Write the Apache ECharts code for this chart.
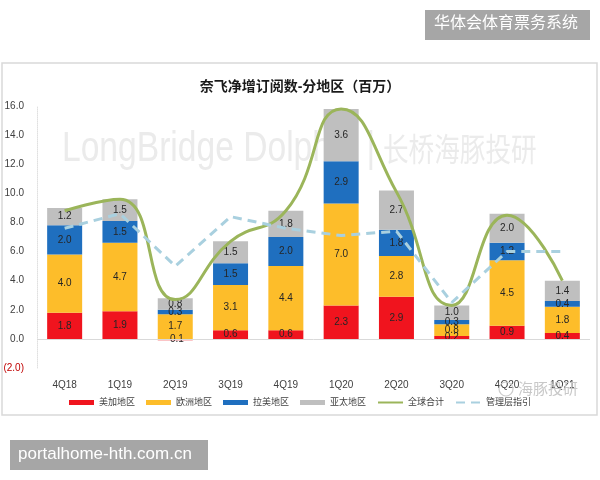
<!DOCTYPE html>
<html><head><meta charset="utf-8">
<script src="https://cdn.jsdelivr.net/npm/echarts@6/dist/echarts.min.js"></script>
<style>html,body{margin:0;padding:0;background:#fff}#c{width:600px;height:480px}</style>
</head><body><div id="c"></div>
<script>
var categories = ['4Q18','1Q19','2Q19','3Q19','4Q19','1Q20','2Q20','3Q20','4Q20','1Q21'];
var usCanada = [1.8, 1.9, -0.1, 0.6, 0.6, 2.3, 2.9, 0.2, 0.9, 0.4];
var europe   = [4.0, 4.7, 1.7, 3.1, 4.4, 7.0, 2.8, 0.8, 4.5, 1.8];
var latam    = [2.0, 1.5, 0.3, 1.5, 2.0, 2.9, 1.8, 0.3, 1.2, 0.4];
var apac     = [1.2, 1.5, 0.8, 1.5, 1.8, 3.6, 2.7, 1.0, 2.0, 1.4];
var globalTotal = [8.8, 9.6, 2.7, 6.7, 8.8, 15.8, 10.1, 2.3, 8.5, 4.0];
var guidance = [7.6, 8.6, 5.0, 8.4, 7.6, 7.1, 7.4, 2.5, 6.0, 6.0];
var seriesNames = ['美加地区','欧洲地区','拉美地区','亚太地区','全球合计','管理层指引'];
var titleText = '奈飞净增订阅数-分地区（百万）';

var FF = "'Liberation Sans','Noto Sans CJK SC',sans-serif";
var chart = echarts.init(document.getElementById('c'), null, {renderer:'canvas'});
function barSeries(name, data, color){
  return {name:name, type:'bar', stack:'s', data:data, barWidth:35,
    itemStyle:{color:color},
    label:{show:true, position:'inside', fontSize:10, color:'#262626', fontFamily:FF,
      formatter:function(p){return p.value.toFixed(1);}}};
}
var s0 = barSeries(seriesNames[0], usCanada, '#f0141e');
s0.markLine = {silent:true, symbol:'none', label:{show:false},
  lineStyle:{color:'#d9d9d9', type:'solid', width:1}, data:[{yAxis:0}]};
var option = {
  animation:false,
  textStyle:{fontFamily:FF},
  title:{text:titleText, left:'center', top:75,
    textStyle:{fontSize:14, fontWeight:'bold', color:'#1a1a1a', fontFamily:FF}},
  graphic:[
    {type:'rect', shape:{x:2,y:63,width:595,height:352}, style:{fill:'none', stroke:'#d9d9d9', lineWidth:1.5}, z:-10},
    {type:'text', x:62, y:128, scaleX:0.8, style:{text:'LongBridge Dolphin |', fontSize:42, fill:'#ebebeb', fontFamily:FF}, z:-5},
    {type:'text', x:383, y:133, scaleX:0.8, style:{text:'长桥海豚投研', fontSize:32, fill:'#ebebeb', fontFamily:"'Noto Sans CJK SC',sans-serif"}, z:-5},
    {type:'text', x:518, y:381, style:{text:'海豚投研', fontSize:15, fill:'#c8c8c8', fontFamily:"'Noto Sans CJK SC',sans-serif"}, z:100},
    {type:'circle', shape:{cx:506, cy:389, r:7}, style:{fill:'none', stroke:'#cccccc', lineWidth:1.2}, z:100},
    {type:'rect', shape:{x:425,y:10,width:165,height:30}, style:{fill:'#a6a6a6'}, z:100},
    {type:'text', x:434, y:14, style:{text:'华体会体育票务系统', fontSize:16, fill:'#ffffff', fontFamily:"'Noto Sans CJK SC',sans-serif"}, z:101},
    {type:'rect', shape:{x:10,y:440,width:198,height:30}, style:{fill:'#a6a6a6'}, z:100},
    {type:'text', x:18, y:446, style:{text:'portalhome-hth.com.cn', fontSize:17, fill:'#ffffff', fontFamily:"'Liberation Sans',sans-serif"}, z:101}
  ],
  legend:{top:393, left:'center', itemGap:11, itemWidth:25, itemHeight:5,
    textStyle:{fontSize:9, color:'#404040', fontFamily:FF},
    data:[
      {name:seriesNames[0], icon:'rect'},{name:seriesNames[1], icon:'rect'},
      {name:seriesNames[2], icon:'rect'},{name:seriesNames[3], icon:'rect'},
      {name:seriesNames[4], itemStyle:{opacity:0}},{name:seriesNames[5], itemStyle:{opacity:0}}]},
  grid:{left:37, right:10, top:106, bottom:112},
  xAxis:{type:'category', data:categories, axisLine:{show:false}, axisTick:{show:false},
    axisLabel:{fontSize:10, color:'#404040', margin:12}},
  yAxis:{type:'value', min:-2, max:16, interval:2,
    axisLine:{show:true, lineStyle:{color:'#e0e0e0', type:'dotted'}},
    splitLine:{show:false}, axisTick:{show:false},
    axisLabel:{fontSize:10, margin:13, align:'right',
      color:function(v){return v<0?'#c00000':'#404040';},
      formatter:function(v){return v<0?'('+Math.abs(v).toFixed(1)+')':v.toFixed(1);}}},
  series:[
    s0,
    barSeries(seriesNames[1], europe, '#fdbd2a'),
    barSeries(seriesNames[2], latam, '#1f6fbf'),
    barSeries(seriesNames[3], apac, '#bfbfbf'),
    {name:seriesNames[4], type:'line', data:globalTotal, smooth:0.5, symbol:'none', z:5,
      lineStyle:{color:'#9bb55a', width:3}, itemStyle:{color:'#9bb55a'}},
    {name:seriesNames[5], type:'line', data:guidance, symbol:'none', z:6,
      lineStyle:{color:'#a9d0df', width:3, type:[9,6]}, itemStyle:{color:'#a9d0df'}}
  ]
};
chart.setOption(option);
</script></body></html>
